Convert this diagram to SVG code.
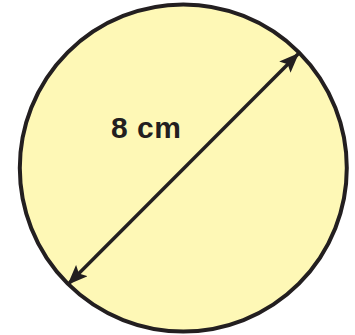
<svg xmlns="http://www.w3.org/2000/svg" width="355" height="335" viewBox="0 0 355 335">
<defs>
<style>
.shape{fill:#FEF8B6;stroke:#231F20;stroke-width:4}
.conn{stroke:#231F20;stroke-width:3.5;fill:none}
.lbl{font-family:"Liberation Sans",Arial,sans-serif;font-weight:bold;font-size:30px;fill:#231F20}
</style>
<marker id="ah" markerUnits="userSpaceOnUse" markerWidth="21" markerHeight="16" refX="19" refY="8" orient="auto-start-reverse" viewBox="0 0 21 16">
<path d="M0,0 L20,8 L0,16 L4,8 z" fill="#231F20"/>
</marker>
</defs>
<g id="circle">
<circle class="shape" cx="183.3" cy="168" r="163.5"/>
</g>
<g id="connectors">
<line class="conn" x1="68.3" y1="284" x2="298.3" y2="53.7" marker-start="url(#ah)" marker-end="url(#ah)"/>
</g>
<g id="label">
<text class="lbl" x="111" y="138" letter-spacing="0.5">8 cm</text>
</g>
</svg>
